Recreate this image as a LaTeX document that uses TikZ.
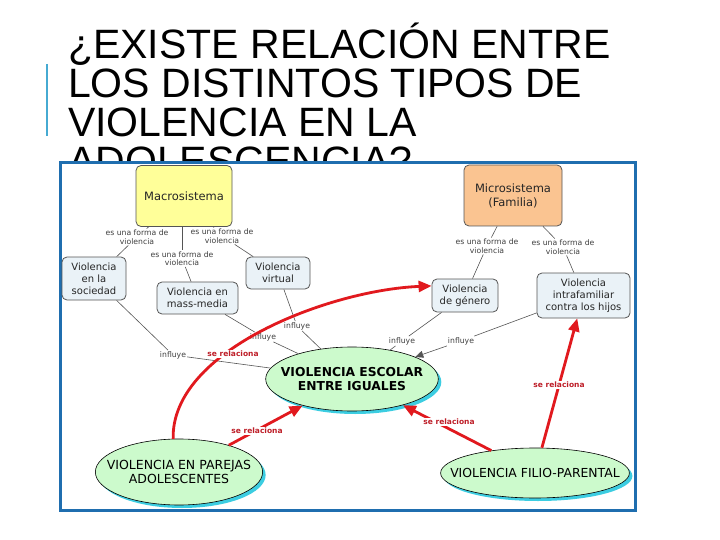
\documentclass[tikz,border=0pt]{standalone}
\usepackage{fontspec}
\setmainfont{DejaVu Sans}
\newfontfamily\titlefont{Liberation Sans}
\usetikzlibrary{arrows.meta,shapes.geometric,shadows}
\definecolor{framec}{RGB}{31,110,175}
\definecolor{barc}{RGB}{70,170,210}
\definecolor{conc}{RGB}{234,242,247}
\definecolor{macroc}{RGB}{255,255,153}
\definecolor{microc}{RGB}{250,196,145}
\definecolor{ellc}{RGB}{204,250,204}
\definecolor{shadc}{RGB}{60,205,225}
\definecolor{redc}{RGB}{225,25,30}
\definecolor{redt}{RGB}{190,30,40}
\definecolor{linec}{RGB}{85,85,85}
\begin{document}
\begin{tikzpicture}[x=1pt,y=-1pt,
  concept/.style={draw=linec, line width=0.8pt, rounded corners=5pt, fill=conc, align=center, inner sep=1pt, font=\fontsize{10}{12}\selectfont, text=black!85},
  topbox/.style={concept, fill=#1, font=\fontsize{11.5}{14}\selectfont},
  ell/.style={ellipse, draw=black, line width=0.6pt, fill=ellc, align=center, inner ysep=0pt, drop shadow={shadow xshift=3pt, shadow yshift=-3pt, fill=shadc, opacity=1}},
  link/.style={font=\fontsize{7.7}{8.5}\selectfont, text=black!75, align=center, fill=white, inner sep=1pt},
  rlink/.style={font=\bfseries\fontsize{7.5}{9}\selectfont, text=redt, fill=white, inner sep=1pt},
  conn/.style={draw=linec, line width=0.6pt},
  rarrow/.style={draw=redc, line width=2.8pt, -{Triangle[length=13pt,width=11pt]}},
  titleline/.style={anchor=base west, inner sep=0pt, font=\titlefont\fontsize{41}{39}\selectfont}
]
\useasboundingbox (0,0) rectangle (720,540);
\fill[white] (0,0) rectangle (720,540);
% title
\node[titleline] (t1) at (68,59) {¿EXISTE RELACIÓN ENTRE};
\node[titleline] (t2) at (68,98) {LOS DISTINTOS TIPOS DE};
\node[titleline] (t3) at (68,137) {VIOLENCIA EN LA};
\node[titleline] (t4) at (68,176) {ADOLESCENCIA?};
\draw[barc, line width=2.5pt] (47,64) -- (47,136);
% frame
\draw[framec, line width=3pt, fill=white] (60,163) rectangle (635,510);
% boxes
\node[topbox=macroc, minimum width=96pt, minimum height=61pt] (macro) at (184,196) {Macrosistema};
\node[concept, minimum width=64pt, minimum height=43pt] (soc) at (94,278.5) {Violencia\\en la\\sociedad};
\node[concept, minimum width=81pt, minimum height=32pt] (mass) at (197.5,298) {Violencia en\\mass-media};
\node[concept, minimum width=64pt, minimum height=32pt] (virt) at (278,273) {Violencia\\virtual};
\node[topbox=microc, minimum width=98pt, minimum height=61pt] (micro) at (513,195.5) {Microsistema\\(Familia)};
\node[concept, minimum width=66pt, minimum height=33pt] (gen) at (465,295.5) {Violencia\\de género};
\node[concept, minimum width=93pt, minimum height=45pt] (intra) at (583.5,295.5) {Violencia\\intrafamiliar\\contra los hijos};
% ellipses
\node[ell, inner xsep=-10pt, minimum height=64pt, font=\bfseries\fontsize{12.3}{14}\selectfont] (esc) at (352,379) {VIOLENCIA ESCOLAR\\ENTRE IGUALES};
\node[ell, inner xsep=-13pt, minimum height=66pt, font=\fontsize{12.5}{13.5}\selectfont] (par) at (179,472) {VIOLENCIA EN PAREJAS\\ADOLESCENTES};
\node[ell, inner xsep=-18pt, minimum height=50pt, font=\fontsize{12.4}{14}\selectfont] (fil) at (535,473) {VIOLENCIA FILIO-PARENTAL};
% linking phrases
\node[link] (l1) at (137,237) {es una forma de\\violencia};
\node[link] (l2) at (222,236) {es una forma de\\violencia};
\node[link] (l3) at (182,258.5) {es una forma de\\violencia};
\node[link] (l4) at (487,246) {es una forma de\\violencia};
\node[link] (l5) at (563,247) {es una forma de\\violencia};
\node[link] (i1) at (173,355) {influye};
\node[link] (i2) at (263,337) {influye};
\node[link] (i3) at (297,326) {influye};
\node[link] (i4) at (402,341) {influye};
\node[link] (i5) at (461,341) {influye};
% gray connectors
\draw[conn] (macro) -- (l1);
\draw[conn] (l1) -- (soc);
\draw[conn] (macro) -- (l2);
\draw[conn] (l2) -- (virt);
\draw[conn] (macro.south -| l3) -- (l3);
\draw[conn] (l3) -- (mass);
\draw[conn] (micro) -- (l4);
\draw[conn] (l4) -- (gen);
\draw[conn] (micro) -- (l5);
\draw[conn] (l5) -- (intra);
\draw[conn] (soc) -- (i1);
\draw[conn] (i1) -- (esc);
\draw[conn] (mass) -- (i2);
\draw[conn] (i2) -- (esc);
\draw[conn] (virt) -- (i3);
\draw[conn] (i3) -- (esc);
\draw[conn] (gen) -- (i4);
\draw[conn] (i4) -- (esc);
\draw[conn] (intra) -- (i5);
\draw[conn, -{Triangle[length=8pt,width=7pt]}] (i5) -- (esc);
% red connectors
\draw[rarrow] (par.100) .. controls (171,350) and (330,290) .. (gen.164);
\draw[rarrow] (par) -- (esc);
\draw[rarrow] (fil) -- (esc);
\draw[rarrow] (fil) -- (intra);
\node[rlink] (r1) at (233,354) {se relaciona};
\node[rlink] (r2) at (257,431) {se relaciona};
\node[rlink] (r3) at (449,422) {se relaciona};
\node[rlink] (r4) at (559,385) {se relaciona};
\end{tikzpicture}
\end{document}
